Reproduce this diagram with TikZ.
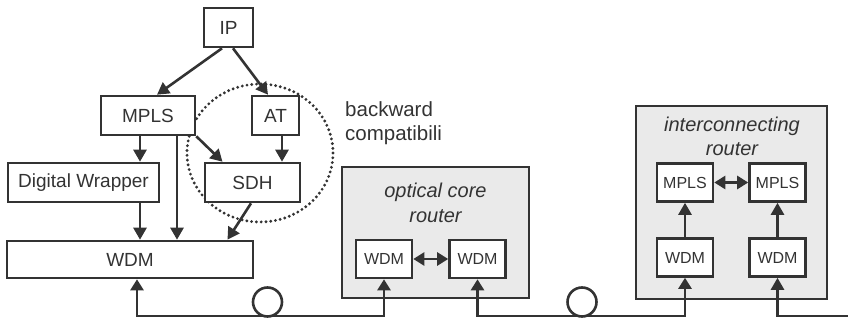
\documentclass[tikz,border=0pt]{standalone}
\usepackage{fontspec}
\setmainfont{Liberation Sans}
\usetikzlibrary{arrows.meta,calc}
\definecolor{ink}{HTML}{333333}
\definecolor{panel}{HTML}{EAEAEA}
\begin{document}
\begin{tikzpicture}[x=1pt,y=-1pt,
  box/.style={draw=ink, line width=2.6pt, fill=white, rectangle, inner sep=0pt, text=ink,
    font=\fontsize{19}{22}\selectfont},
  sbox/.style={box, minimum width=56pt, minimum height=38pt, font=\fontsize{16}{19}\selectfont},
  panelbox/.style={draw=ink, line width=2.6pt, fill=panel, rectangle, inner sep=0pt},
  arr/.style={draw=ink, line width=2.6pt, -{Triangle[length=12pt,width=13pt]}},
  darr/.style={draw=ink, line width=2.6pt, {Triangle[length=11pt,width=13pt]}-{Triangle[length=11pt,width=13pt]}},
  ital/.style={font=\fontsize{20}{24}\selectfont\itshape, anchor=base, inner sep=0pt, text=ink},
  plain/.style={font=\fontsize{20.5}{24}\selectfont, anchor=base west, inner sep=0pt, text=ink},
  spool/.style={circle, draw=ink, line width=2.6pt, minimum size=29pt, inner sep=0pt},
  dotring/.style={draw=ink, line width=3.2pt, line cap=round, dash pattern=on 0pt off 4.8pt}
]
\useasboundingbox (0,0) rectangle (848,320);

% router panels
\node[panelbox, minimum width=187pt, minimum height=131pt] (core) at (435.5,232.5) {};
\node[panelbox, minimum width=191pt, minimum height=193pt] (inter) at (731.5,202.5) {};

% backward compatibility ring
\draw[dotring] (260,153) ellipse [x radius=73, y radius=69];

% protocol stack
\node[box, minimum width=49pt, minimum height=39pt] (IP) at (228.5,27.5) {IP};
\node[box, minimum width=94pt, minimum height=39pt] (MPLS) at (148,115.5) {MPLS};
\node[box, minimum width=47pt, minimum height=39pt] (AT) at (275.5,115.5) {AT};
\node[box, minimum width=151pt, minimum height=39pt] (DW) at (83.5,182.5) {Digital Wrapper};
\node[box, minimum width=95pt, minimum height=39pt] (SDH) at (252.5,182.5) {SDH};
\node[box, minimum width=246pt, minimum height=37pt] (WDM) at (130,259.5) {WDM};

\node[plain] (bw1) at (345,117) {backward};
\node[plain] (bw2) at (345,141) {compatibili};

% optical core router
\node[ital] (oc1) at (435.5,198) {optical core};
\node[ital] (oc2) at (435.5,223) {router};
\node[sbox] (Wo1) at (384,259) {WDM};
\node[sbox] (Wo2) at (477.5,259) {WDM};

% interconnecting router
\node[ital] (ic1) at (732,132) {interconnecting};
\node[ital] (ic2) at (732,156) {router};
\node[sbox] (Mi1) at (685,182.5) {MPLS};
\node[sbox] (Mi2) at (777.5,182.5) {MPLS};
\node[sbox] (Wi1) at (685,257.5) {WDM};
\node[sbox] (Wi2) at (777.5,257.5) {WDM};

% fibre spools
\node[spool] (sp1) at (267.5,302) {};
\node[spool] (sp2) at (582,302) {};

% helper coordinates
\coordinate (mL) at ([xshift=-8pt]MPLS.south);
\coordinate (mR) at ([xshift=29pt]MPLS.south);
\coordinate (aS) at ([xshift=6.5pt]AT.south);
\coordinate (sS) at ([xshift=-1.5pt]SDH.south);
\coordinate (sW) at ([xshift=-25pt]SDH.south);
\coordinate (wB) at ([xshift=7pt]WDM.south);
\coordinate (base) at (0,316);
\coordinate (rend) at (848,316);

% stack arrows
\draw[arr] ([xshift=-6.5pt]IP.south) -- ([xshift=9pt]MPLS.north);
\draw[arr] ([xshift=4.5pt]IP.south) -- ([xshift=-7.5pt]AT.north);
\draw[arr] (mL) -- (mL |- DW.north);
\draw[arr] (mR) -- (mR |- WDM.north);
\draw[arr] (MPLS.south east) -- ([xshift=-30pt]SDH.north);
\draw[arr] (aS) -- (aS |- SDH.north);
\draw[arr] (mL |- DW.south) -- (mL |- WDM.north);
\draw[arr] (sS) -- (sW |- WDM.north);

% fibre links
\draw[darr] (wB) -- (wB |- base) -- (Wo1.south |- base) -- (Wo1.south);
\draw[darr] (Wo2.south) -- (Wo2.south |- base) -- (Wi1.south |- base) -- (Wi1.south);
\draw[arr] (rend) -- (Wi2.south |- base) -- (Wi2.south);

% inside routers
\draw[darr] (Wo1) -- (Wo2);
\draw[darr] (Mi1) -- (Mi2);
\draw[arr] (Wi1) -- (Mi1);
\draw[arr] (Wi2) -- (Mi2);
\end{tikzpicture}
\end{document}
